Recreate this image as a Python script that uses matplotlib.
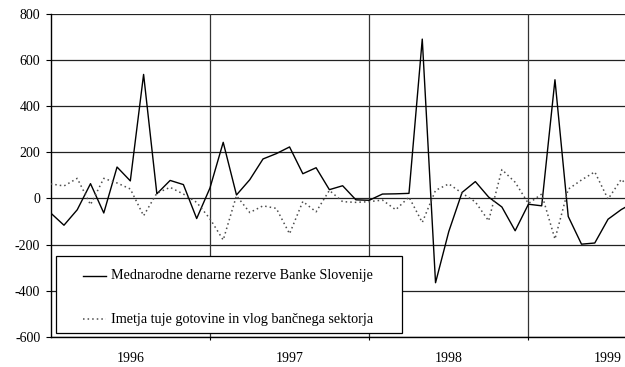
import matplotlib
matplotlib.use('Agg')
import matplotlib.pyplot as plt
from matplotlib.patches import Rectangle
from matplotlib.lines import Line2D
import numpy as np

plt.rcParams['font.family'] = ['Liberation Serif', 'DejaVu Serif']
plt.rcParams['axes.unicode_minus'] = False

# ─── Monthly flows (mio SIT) ───
reserves = [-63, -116, -49, 64, -63, 136, 76, 537, 20, 78, 60, -87,
            45, 243, 15, 81, 171, 194, 223, 107, 133, 38, 55, -6,
            -8, 19, 20, 22, 690, -365, -143, 26, 73, 6, -37, -140,
            -25, -32, 514, -78, -198, -193, -90, -48, -16]
bank_holdings = [63, 54, 87, -27, 87, 67, 41, -75, 23, 48, 19, -17,
                 -88, -180, 12, -61, -32, -43, -153, -13, -58, 35, -14, -17,
                 -14, -7, -49, 6, -104, 35, 63, 23, -15, -97, 125, 70,
                 -22, 19, -176, 40, 80, 115, -3, 83, 25]
year_labels = ['1996', '1997', '1998', '1999']
year_label_pos = [6, 18, 30, 42]
year_breaks = [12, 24, 36]
series_names = ['Mednarodne denarne rezerve Banke Slovenije',
                'Imetja tuje gotovine in vlog bančnega sektorja']

W, H = 625, 367
fig = plt.figure(figsize=(W / 100, H / 100), dpi=100)
fig.patch.set_facecolor('white')

# axes box in pixel units
left, top, right, bottom = 50.7, 13.7, 625, 337
ax = fig.add_axes([left / W, 1 - bottom / H, (right - left) / W, (bottom - top) / H])

x = np.arange(len(reserves))
solid_style = dict(color='black', lw=1.0, linestyle='-')
dotted_style = dict(color='#4d4d4d', lw=1.1, linestyle=(0, (1, 2)))
ax.plot(x, reserves, zorder=3, **solid_style)
ax.plot(x, bank_holdings, zorder=3, **dotted_style)

ax.set_xlim(0, (right - left) / 13.27)
ax.set_ylim(-600, 800)
ax.set_yticks(np.arange(-600, 801, 200))
ax.yaxis.grid(True, color='#222222', lw=0.9)
for xb in year_breaks:
    ax.axvline(xb, color='#333333', lw=0.9, zorder=1)
ax.set_axisbelow(True)

ax.set_xticks(year_label_pos)
ax.set_xticklabels(year_labels)
ax.set_xticks(year_breaks, minor=True)
ax.tick_params(axis='x', which='major', length=0, pad=11, labelsize=10)
ax.tick_params(axis='x', which='minor', length=2.5, width=0.8, direction='out')
ax.tick_params(axis='y', length=3.5, width=0.8, direction='out', pad=4, labelsize=10)

for side in ['top', 'right']:
    ax.spines[side].set_visible(False)
for side in ['left', 'bottom']:
    ax.spines[side].set_linewidth(1.0)
    ax.spines[side].set_color('black')


def px(xp, yp):
    return xp / W, 1 - yp / H


# ─── Legend box ───
bx0, by0 = px(56, 333)
bw, bh = (402 - 56) / W, (333 - 256) / H
fig.add_artist(Rectangle((bx0, by0), bw, bh, transform=fig.transFigure,
                         facecolor='white', edgecolor='black', lw=0.9, zorder=5))
for name, style, yp in zip(series_names, [solid_style, dotted_style], [276, 319]):
    (xa, ya), (xb2, _) = px(82.7, yp), px(106, yp)
    fig.add_artist(Line2D([xa, xb2], [ya, ya], transform=fig.transFigure,
                          zorder=6, **style))
    tx, ty = px(111, yp)
    fig.text(tx, ty, name, ha='left', va='center', fontsize=10.2, zorder=6)

plt.savefig('out.png', dpi=100, facecolor='white')
plt.close()
